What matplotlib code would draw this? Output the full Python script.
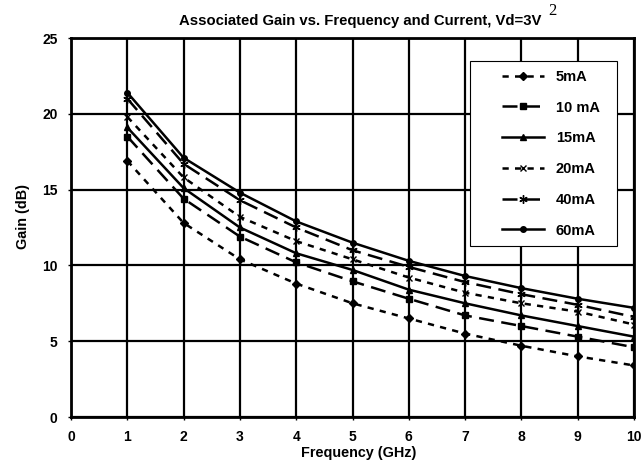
import matplotlib
matplotlib.use("Agg")
import matplotlib.pyplot as plt
from matplotlib.legend_handler import HandlerLine2D

freq = [1, 2, 3, 4, 5, 6, 7, 8, 9, 10]
labels = ["5mA", "10 mA", "15mA", "20mA", "40mA", "60mA"]
g5 = [16.9, 12.8, 10.4, 8.8, 7.5, 6.5, 5.5, 4.7, 4.0, 3.4]
g10 = [18.5, 14.4, 11.9, 10.2, 8.95, 7.8, 6.7, 6.0, 5.3, 4.6]
g15 = [19.1, 15.1, 12.5, 10.8, 9.7, 8.4, 7.5, 6.7, 6.0, 5.3]
g20 = [19.8, 15.8, 13.2, 11.6, 10.4, 9.2, 8.2, 7.5, 6.95, 6.1]
g40 = [21.0, 16.7, 14.3, 12.5, 11.0, 9.9, 8.9, 8.1, 7.4, 6.6]
g60 = [21.4, 17.1, 14.8, 12.9, 11.5, 10.3, 9.3, 8.5, 7.8, 7.2]
xticks = [0, 1, 2, 3, 4, 5, 6, 7, 8, 9, 10]
yticks = [0, 5, 10, 15, 20, 25]

plt.rcParams['font.family'] = ['Liberation Sans', 'DejaVu Sans']
plt.rcParams['font.weight'] = 'bold'

W, H = 642, 465
fig = plt.figure(figsize=(W / 100, H / 100), dpi=100)
L, R, T, B = 71, 634, 38, 417
ax = fig.add_axes([L / W, (H - B) / H, (R - L) / W, (B - T) / H])

short = (0, (2.5, 2.5))
long_ = (0, (6, 3))
styles = [
    (g5, short, 'D', 4),
    (g10, long_, 's', 4.5),
    (g15, '-', '^', 5),
    (g20, short, 'x', 4.5),
    (g40, long_, (6, 2, 0), 6),
    (g60, '-', 'o', 4),
]
for (vals, ls, mk, ms), lab in zip(styles, labels):
    ax.plot(freq, vals, color='black', linestyle=ls, linewidth=1.8,
            marker=mk, markersize=ms, markeredgewidth=1.0, label=lab)

ax.set_xlim(0, 10)
ax.set_ylim(0, 25)
ax.set_xticks(xticks)
ax.set_yticks(yticks)
ax.grid(True, color='black', linewidth=1.6)
for s in ax.spines.values():
    s.set_linewidth(2)
ax.tick_params(axis='x', direction='out', length=2.2, width=1, labelsize=10, pad=6.8)
ax.tick_params(axis='y', direction='out', length=2.2, width=1, labelsize=10, pad=7.5)
for t in ax.get_xticklabels() + ax.get_yticklabels():
    t.set_fontweight('bold')
ax.set_xlabel("Frequency (GHz)", fontsize=10.4, fontweight='bold')
ax.set_ylabel("Gain (dB)", fontsize=10.4, fontweight='bold')
ax.xaxis.set_label_coords((359 - L) / (R - L), -(445.5 - B) / (B - T))
ax.yaxis.set_label_coords(-(L - 30) / (R - L), (B - 216.5) / (B - T))

fig.text(360.5 / W, 1 - 24.5 / H, "Associated Gain vs. Frequency and Current, Vd=3V",
         ha='center', va='baseline', fontsize=10.7, fontweight='bold')
fig.text(552 / W, 1 - 15 / H, "2", ha='center', va='baseline', fontsize=12,
         family='Liberation Serif', fontweight='normal')

fs = 10.5
leg = ax.legend(loc='upper left', bbox_to_anchor=(470 / W, 1 - 61 / H, 147 / W, 0.0),
                bbox_transform=fig.transFigure, mode='expand',
                frameon=True, fancybox=False, edgecolor='black', framealpha=1,
                prop={'size': fs, 'weight': 'bold'}, handlelength=4.46,
                labelspacing=1.15, borderpad=0.6, handletextpad=0.82,
                borderaxespad=0,
                handler_map={plt.Line2D: HandlerLine2D(xpad=1.6)})
leg.get_frame().set_linewidth(0.8)

fig.savefig("out.png", dpi=100)
